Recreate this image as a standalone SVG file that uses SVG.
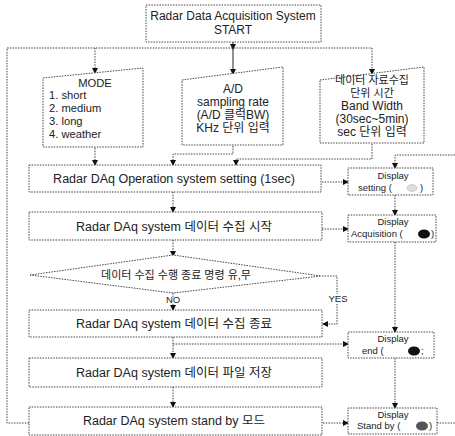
<svg xmlns="http://www.w3.org/2000/svg" width="455" height="436" viewBox="0 0 455 436">
<defs>
<marker id="ah" markerWidth="6" markerHeight="6" refX="5" refY="3" orient="auto" markerUnits="userSpaceOnUse">
<path d="M0,0 L6,3 L0,6 Z" fill="#111"/>
</marker>
<style>
.box{fill:#fff;stroke:#444;stroke-width:1;stroke-dasharray:1.5 1.2}
.ln{fill:none;stroke:#444;stroke-width:1;stroke-dasharray:1.5 1.2}
.sl{fill:none;stroke:#222;stroke-width:1}
text{font-family:"Liberation Sans","Noto Sans CJK KR",sans-serif;fill:#222}
.t12{font-size:12.5px}
.t11{font-size:12px}
.tm{font-size:11.2px}
.t10{font-size:11px}
.t9{font-size:9.5px}
.c{text-anchor:middle}
</style>
</defs>
<rect width="455" height="436" fill="#fff"/>

<g id="connectors">
<path class="sl" d="M233 42 V49" marker-end="url(#ah)"/>
<path class="sl" d="M233 49 V74" marker-end="url(#ah)"/>
<path class="ln" d="M7 48 H372"/>
<path class="ln" d="M95 48 V73" marker-end="url(#ah)"/>
<path class="ln" d="M372 48 V74" marker-end="url(#ah)"/>
<path class="ln" d="M95 148 V165" marker-end="url(#ah)"/>
<path class="ln" d="M233 146 V154 H173 V165" marker-end="url(#ah)"/>
<path class="ln" d="M372 144 V159 H236 V165" marker-end="url(#ah)"/>
<path class="ln" d="M455 155 H395 V168" marker-end="url(#ah)"/>
<path class="ln" d="M322 182 H348" marker-end="url(#ah)"/>
<path class="ln" d="M173 192 V212" marker-end="url(#ah)"/>
<path class="ln" d="M395 195 V215" marker-end="url(#ah)"/>
<path class="ln" d="M322 229 H348" marker-end="url(#ah)"/>
<path class="ln" d="M173 240 V256" marker-end="url(#ah)"/>
<path class="ln" d="M395 242 V332" marker-end="url(#ah)"/>
<path class="ln" d="M322 276 H337 V294"/>
<path class="ln" d="M337 304 V324 H323" marker-end="url(#ah)"/>
<path class="ln" d="M173 293 V297"/>
<path class="ln" d="M173 304 V310" marker-end="url(#ah)"/>
<path class="ln" d="M173 337 V358" marker-end="url(#ah)"/>
<path class="ln" d="M173 344 H348" marker-end="url(#ah)"/>
<path class="ln" d="M173 387 V407" marker-end="url(#ah)"/>
<path class="ln" d="M395 358 V408" marker-end="url(#ah)"/>
<path class="ln" d="M323 423 H348" marker-end="url(#ah)"/>
<path class="ln" d="M437 423 H455"/>
<path class="ln" d="M29 423 H7 V48"/>
<text class="t9 c" x="173" y="303">NO</text>
<text class="t9 c" x="338" y="302">YES</text>
</g>

<g id="start">
<rect class="box" x="146" y="5" width="175" height="37"/>
<text class="t11 c" x="233" y="20">Radar Data Acquisition System</text>
<text class="t11 c" x="233" y="34">START</text>
</g>

<g id="mode">
<polygon class="box" points="43,78 143,68 143,147 43,147"/>
<text class="tm c" x="95" y="86.5">MODE</text>
<text class="tm" x="49" y="99.3">1. short</text>
<text class="tm" x="49" y="112.1">2. medium</text>
<text class="tm" x="49" y="124.9">3. long</text>
<text class="tm" x="49" y="137.7">4. weather</text>
</g>

<g id="ad">
<polygon class="box" points="182,80 283,67 283,145 182,145"/>
<text class="t11 c" x="233" y="93">A/D</text>
<text class="t11 c" x="233" y="106">sampling rate</text>
<text class="t11 c" x="233" y="119">(A/D 클럭BW)</text>
<text class="t11 c" x="233" y="132">KHz 단위 입력</text>
</g>

<g id="bandwidth">
<polygon class="box" points="320,80 424,67 424,143 320,143"/>
<text class="t10 c" x="372" y="84">데이터 자료수집</text>
<text class="t10 c" x="372" y="97">단위 시간</text>
<text class="t11 c" x="372" y="110">Band Width</text>
<text class="t11 c" x="372" y="123">(30sec~5min)</text>
<text class="t11 c" x="372" y="136">sec 단위 입력</text>
</g>

<g id="op-setting">
<rect class="box" x="29" y="165" width="292" height="27"/>
<text class="t12 c" x="174" y="183">Radar DAq Operation system setting (1sec)</text>
</g>

<g id="disp-setting">
<rect class="box" x="348" y="168" width="85" height="27"/>
<text class="t9 c" x="393" y="179">Display</text>
<text class="t9" x="358" y="191">setting  (</text>
<ellipse cx="412" cy="188" rx="5" ry="3.5" fill="#ddd" stroke="#bbb" stroke-width="0.6"/>
<text class="t9" x="420" y="191">)</text>
</g>

<g id="acq-start">
<rect class="box" x="29" y="212" width="293" height="28"/>
<text class="t12 c" x="174" y="231">Radar DAq system 데이터 수집 시작</text>
</g>

<g id="disp-acq">
<rect class="box" x="348" y="215" width="88" height="27"/>
<text class="t9 c" x="393" y="225">Display</text>
<text class="t9" x="351" y="237">Acquisition  (</text>
<ellipse cx="424" cy="234" rx="6" ry="4.5" fill="#111"/>
<text class="t9" x="431" y="237">)</text>
</g>

<g id="decision">
<polygon class="box" points="30,275 173,255 321,276 173,293"/>
<text class="t10 c" x="176" y="279">데이터 수집 수행 종료 명령 유,무</text>
</g>

<g id="acq-end">
<rect class="box" x="29" y="310" width="293" height="27"/>
<text class="t12 c" x="174" y="328">Radar DAq system 데이터 수집 종료</text>
</g>

<g id="disp-end">
<rect class="box" x="348" y="332" width="86" height="26"/>
<text class="t9 c" x="393" y="342">Display</text>
<text class="t9" x="362" y="354">end      (</text>
<ellipse cx="414" cy="351" rx="6" ry="4.5" fill="#111"/>
<text class="t9" x="421" y="354">;</text>
</g>

<g id="file-save">
<rect class="box" x="29" y="358" width="293" height="29"/>
<text class="t12 c" x="174" y="377">Radar DAq system 데이터 파일 저장</text>
</g>

<g id="standby">
<rect class="box" x="29" y="407" width="293" height="28"/>
<text class="t12 c" x="174" y="425">Radar DAq system stand by 모드</text>
</g>

<g id="disp-standby">
<rect class="box" x="348" y="408" width="89" height="26"/>
<text class="t9 c" x="393" y="418">Display</text>
<text class="t9" x="357" y="429">Stand by  (</text>
<ellipse cx="422" cy="426" rx="6" ry="4.5" fill="#555"/>
<text class="t9" x="429" y="429">)</text>
</g>
</svg>
